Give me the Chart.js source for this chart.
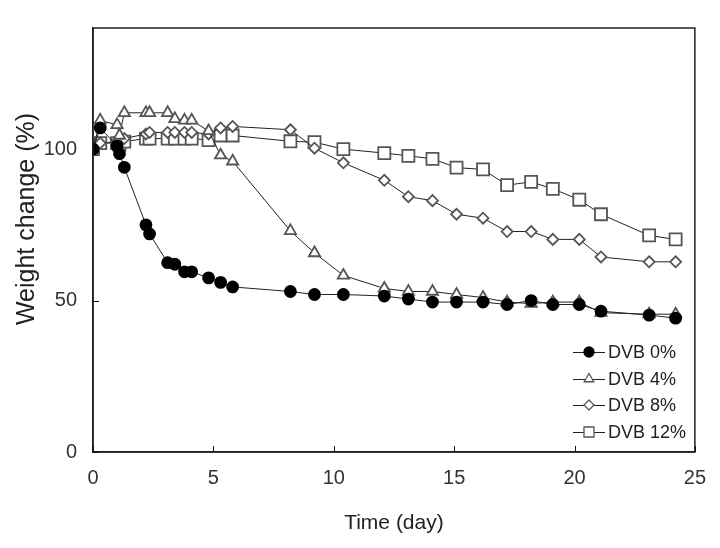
<!DOCTYPE html>
<html>
<head>
<meta charset="utf-8">
<title>Weight change</title>
<script src="https://cdn.jsdelivr.net/npm/chart.js"></script>
<style>
    body{ margin:0; background:#fff; }
    #wrap{ width:720px; height:548px; }
</style>
</head>
<body>
<div id="wrap"><canvas id="myChart" width="720" height="548"></canvas></div>
<script>
// data
const days = [0, 0.3, 1.0, 1.1, 1.3, 2.2, 2.35, 3.1, 3.4, 3.8, 4.1, 4.8, 5.3, 5.8, 8.2, 9.2, 10.4, 12.1, 13.1, 14.1, 15.1, 16.2, 17.2, 18.2, 19.1, 20.2, 21.1, 23.1, 24.2];
const dvb0 = [100, 107, 101, 98.5, 94, 75, 72, 62.5, 62, 59.5, 59.5, 57.5, 56, 54.5, 53, 52, 52, 51.5, 50.5, 49.5, 49.5, 49.5, 48.7, 50, 48.7, 48.7, 46.5, 45.2, 44.2];
const dvb4 = [100, 109.5, 108, 104.5, 112, 112, 112, 112, 110, 109.5, 109.5, 106, 98, 96, 73, 65.7, 58.3, 54, 53, 53, 52, 51, 49.5, 49, 49.5, 49.5, 46, 45.5, 45.5];
const dvb8 = [100, 102, 102.5, 103, 103.5, 105, 105.5, 105.5, 105.5, 105.5, 105.5, 105, 107, 107.5, 106.4, 100.3, 95.5, 89.7, 84.3, 83, 78.5, 77.2, 72.8, 72.8, 70.2, 70.2, 64.4, 62.8, 62.8];
const dvb12 = [100, 102, 102, 101.5, 102.5, 103.5, 103.5, 103.5, 103.5, 103.5, 103.5, 103, 104.5, 104.5, 102.6, 102.3, 100, 98.7, 97.8, 96.8, 93.9, 93.3, 88.1, 89.2, 86.9, 83.3, 78.5, 71.5, 70.2];
const labels = ['DVB 0%', 'DVB 4%', 'DVB 8%', 'DVB 12%'];
const yTicks = [0, 50, 100];
const yTitle = 'Weight change (%)';
const xTitle = 'Time (day)';

const fontFam = "'Liberation Sans', Arial, sans-serif";

// turn the arrays into points
function toPoints(vals){
    return vals.map((v, i) => ({x: days[i], y: v}));
}

// marker settings per series
const styles = [
    {point: 'circle', r: 5.5, fill: '#000', stroke: '#000'},
    {point: 'triangle', r: 6.5, fill: '#fff', stroke: '#555'},
    {point: 'rectRot', r: 5.5, fill: '#fff', stroke: '#555'},
    {point: 'rect', r: 8.5, fill: '#fff', stroke: '#555'}
];
const series = [dvb0, dvb4, dvb8, dvb12];

const datasets = series.map((s, i) => ({
    label: labels[i],
    data: toPoints(s),
    borderColor: '#222',
    borderWidth: 1,
    pointStyle: styles[i].point,
    pointRadius: styles[i].r,
    pointBackgroundColor: styles[i].fill,
    pointBorderColor: styles[i].stroke,
    pointBorderWidth: 1.8,
    tension: 0
}));

// small marker drawer for the legend
function drawMarker(ctx, st, x, y, r){
    ctx.save();
    ctx.beginPath();
    if(st.point === 'circle'){
        ctx.arc(x, y, r, 0, Math.PI * 2);
    }else if(st.point === 'triangle'){
        ctx.moveTo(x, y - r);
        ctx.lineTo(x + r * 0.87, y + r * 0.5);
        ctx.lineTo(x - r * 0.87, y + r * 0.5);
        ctx.closePath();
    }else if(st.point === 'rectRot'){
        ctx.moveTo(x, y - r);
        ctx.lineTo(x + r, y);
        ctx.lineTo(x, y + r);
        ctx.lineTo(x - r, y);
        ctx.closePath();
    }else{
        ctx.rect(x - r, y - r, r * 2, r * 2);
    }
    ctx.fillStyle = st.fill;
    ctx.fill();
    ctx.lineWidth = 1.3;
    ctx.strokeStyle = st.stroke;
    ctx.stroke();
    ctx.restore();
}

// frame, inward ticks, y title and the legend box
const extras = {
    id: 'extras',
    afterDatasetsDraw(chart){
        const ctx = chart.ctx;
        const a = chart.chartArea;
        const xs = chart.scales.x;
        const ys = chart.scales.y;
        ctx.save();
        ctx.strokeStyle = '#222';
        ctx.lineWidth = 1.5;
        ctx.strokeRect(a.left, a.top, a.right - a.left, a.bottom - a.top);
        ctx.lineWidth = 1;
        ctx.strokeStyle = '#111';
        ctx.beginPath();
        xs.ticks.forEach(t => {
            const px = Math.round(xs.getPixelForValue(t.value)) + 0.5;
            ctx.moveTo(px, a.bottom);
            ctx.lineTo(px, a.bottom - 6);
        });
        ys.ticks.forEach(t => {
            const py = Math.round(ys.getPixelForValue(t.value)) + 0.5;
            ctx.moveTo(a.left, py);
            ctx.lineTo(a.left + 6, py);
        });
        ctx.stroke();

        // y title sits a bit above the middle in the original
        ctx.save();
        ctx.translate(27, 219);
        ctx.rotate(-Math.PI / 2);
        ctx.font = '25px ' + fontFam;
        ctx.fillStyle = '#222';
        ctx.textAlign = 'center';
        ctx.textBaseline = 'middle';
        ctx.fillText(yTitle, 0, 0);
        ctx.restore();

        // legend
        const legY = [352, 379, 405, 432];
        const legR = [5, 5.5, 5, 5];
        ctx.font = '18px ' + fontFam;
        ctx.textBaseline = 'middle';
        ctx.textAlign = 'left';
        labels.forEach((lab, i) => {
            ctx.strokeStyle = '#222';
            ctx.lineWidth = 1;
            ctx.beginPath();
            ctx.moveTo(573, legY[i] + 0.5);
            ctx.lineTo(605, legY[i] + 0.5);
            ctx.stroke();
            drawMarker(ctx, styles[i], 589, legY[i], legR[i]);
            ctx.fillStyle = '#222';
            ctx.fillText(lab, 608, legY[i] + 1);
        });
        ctx.restore();
    }
};

const ctx = document.getElementById('myChart').getContext('2d');
const myChart = new Chart(ctx, {
    type: 'line',
    data: { datasets: datasets },
    options: {
        responsive: false,
        animation: false,
        layout: { padding: { top: 15, right: 16, left: 0, bottom: 0 } },
        plugins: {
            legend: { display: false },
            tooltip: { enabled: false }
        },
        scales: {
            x: {
                type: 'linear',
                min: 0,
                max: 25,
                afterFit(scale){ scale.height = 96; },
                grid: { display: false, drawTicks: false },
                border: { color: '#111', width: 1.5 },
                ticks: { stepSize: 5, padding: 14, color: '#333', font: { family: fontFam, size: 20 } },
                title: {
                    display: true,
                    text: xTitle,
                    color: '#222',
                    font: { family: fontFam, size: 21 },
                    padding: { top: 0, bottom: 12 }
                }
            },
            y: {
                min: 0,
                max: 140,
                afterFit(scale){ scale.width = 93; },
                afterBuildTicks(scale){ scale.ticks = yTicks.map(v => ({value: v})); },
                grid: { display: false, drawTicks: false },
                border: { color: '#111', width: 1.5 },
                ticks: { padding: 16, color: '#333', font: { family: fontFam, size: 20 } },
                title: { display: false }
            }
        }
    },
    plugins: [extras]
});
</script>
</body>
</html>
